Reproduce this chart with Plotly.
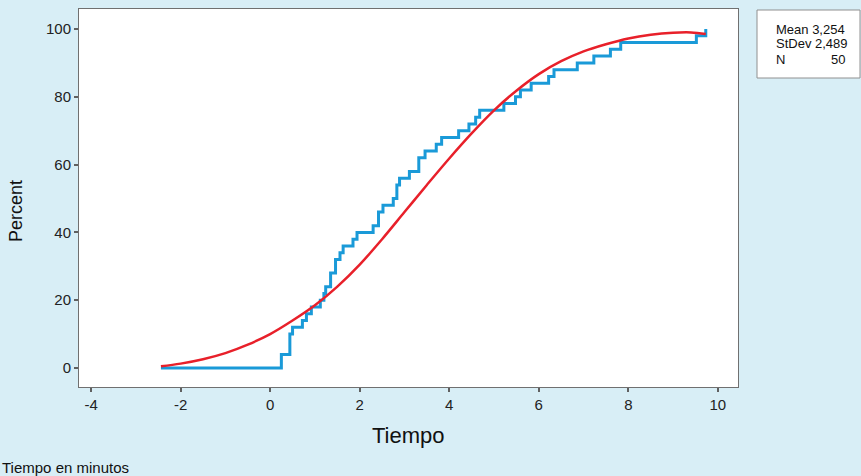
import plotly.graph_objects as go

# Sorted observations (minutes), read from the empirical CDF steps (N = 50)
tiempos = [0.25, 0.25, 0.44, 0.44, 0.44, 0.50, 0.72, 0.81, 0.92, 1.12,
           1.20, 1.24, 1.35, 1.35, 1.46, 1.46, 1.56, 1.63, 1.85, 1.94,
           2.30, 2.42, 2.42, 2.52, 2.75, 2.83, 2.83, 2.89, 3.11, 3.32,
           3.32, 3.46, 3.71, 3.83, 4.21, 4.44, 4.59, 4.68, 5.22, 5.48,
           5.59, 5.83, 6.22, 6.34, 6.86, 7.23, 7.60, 7.83, 9.52, 9.73]
x_inicio = -2.44

# Fitted curve
ajuste_x = [-2.44, -2.0, -1.5, -1.0, -0.5, 0.0, 0.5, 1.0, 1.5, 2.0, 2.5, 3.0, 3.5,
            4.0, 4.5, 5.0, 5.5, 6.0, 6.5, 7.0, 7.5, 8.0, 8.5, 9.0, 9.4, 9.73]
ajuste_y = [0.5, 1.3, 2.6, 4.4, 6.9, 10.0, 14.0, 18.5, 24.0, 30.5, 38.0, 46.0, 54.0,
            61.8, 69.2, 76.0, 81.8, 86.7, 90.5, 93.4, 95.5, 97.2, 98.3, 98.9, 99.0, 98.5]

stats_labels = ["Mean 3,254", "StDev 2,489", "N"]
stats_values = ["", "", "50"]

x_ticks = [-4, -2, 0, 2, 4, 6, 8, 10]
x_tick_text = ["-4", "-2", "0", "2", "4", "6", "8", "10"]
y_ticks = [0, 20, 40, 60, 80, 100]

# Build ECDF step coordinates
n = len(tiempos)
step_x = [x_inicio]
step_y = [0.0]
for i, t in enumerate(tiempos):
    pct = 100.0 * (i + 1) / n
    if step_x[-1] == t:
        step_y[-1] = pct
    else:
        step_x.append(t)
        step_y.append(pct)

W, H = 861, 476
L, R, T, B = 79, 738, 9, 387

fig = go.Figure()
fig.add_trace(go.Scatter(x=step_x, y=step_y, mode="lines", line_shape="hv",
                         line=dict(color="#1a9ad8", width=3), hoverinfo="skip"))
fig.add_trace(go.Scatter(x=ajuste_x, y=ajuste_y, mode="lines", line_shape="spline",
                         line=dict(color="#e8202a", width=2.5), hoverinfo="skip"))

def px(xp):
    return (xp - L) / (R - L)

def py(yp):
    return (B - yp) / (B - T)

NARROW = "Liberation Sans Narrow, Arial Narrow, Liberation Sans"
axis_common = dict(showgrid=False, zeroline=False, showline=True, linecolor="#707070",
                   linewidth=1, mirror=True, ticks="outside", ticklen=4, tickwidth=2,
                   tickcolor="#606060", tickfont=dict(family=NARROW, size=15, color="#222222"))

fig.update_layout(
    width=W, height=H,
    margin=dict(l=L, r=W - R, t=T, b=H - B),
    paper_bgcolor="#d8eef6",
    plot_bgcolor="#ffffff",
    showlegend=False,
    xaxis=dict(range=[-4.27, 10.45], tickvals=x_ticks, ticktext=x_tick_text, **axis_common),
    yaxis=dict(range=[-5.6, 105.9], tickvals=y_ticks, **axis_common),
    shapes=[dict(type="rect", xref="paper", yref="paper",
                 x0=px(757), x1=px(860), y0=py(78), y1=py(10),
                 line=dict(color="#909090", width=1), fillcolor="#ffffff")],
)

ann = [
    dict(text="Tiempo", x=px(408), y=py(435), xref="paper", yref="paper",
         showarrow=False, font=dict(size=22, family=NARROW, color="#111111"),
         xanchor="center", yanchor="middle"),
    dict(text="Percent", x=px(16), y=py(211), xref="paper", yref="paper", textangle=-90,
         showarrow=False, font=dict(size=18, family="Liberation Sans", color="#111111"),
         xanchor="center", yanchor="middle"),
    dict(text="Tiempo en minutos", x=px(0), y=py(467), xref="paper", yref="paper",
         showarrow=False, font=dict(size=15, family=NARROW, color="#111111"),
         xanchor="left", yanchor="middle"),
]
row_y = [29, 44, 59]
for lab, val, yy in zip(stats_labels, stats_values, row_y):
    ann.append(dict(text=lab, x=px(774), y=py(yy), xref="paper", yref="paper", showarrow=False,
                    font=dict(size=13, family="Liberation Sans", color="#111111"),
                    xanchor="left", yanchor="middle"))
    if val:
        ann.append(dict(text=val, x=px(847), y=py(yy), xref="paper", yref="paper", showarrow=False,
                        font=dict(size=13, family="Liberation Sans", color="#111111"),
                        xanchor="right", yanchor="middle"))
fig.update_layout(annotations=ann)

fig.write_html("out.html")
